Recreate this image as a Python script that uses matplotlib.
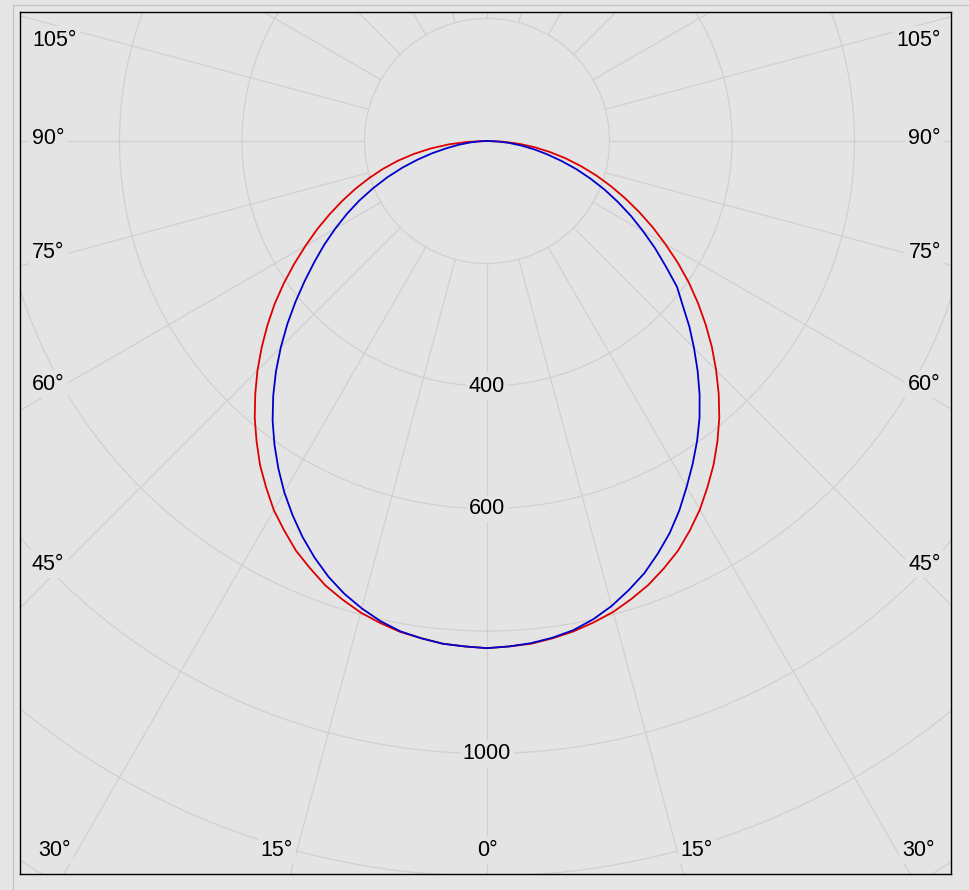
import numpy as np
import matplotlib
matplotlib.use("Agg")
import matplotlib.pyplot as plt
from matplotlib.lines import Line2D

# ---------------- data ----------------
angles_deg = [-90, -87.5, -85, -82.5, -80, -77.5, -75, -72.5, -70, -67.5,
              -65, -62.5, -60, -57.5, -55, -52.5, -50, -47.5, -45, -42.5,
              -40, -37.5, -35, -32.5, -30, -27.5, -25, -22.5, -20, -17.5,
              -15, -12.5, -10, -7.5, -5, -2.5, 0, 2.5, 5, 7.5, 10, 12.5, 15,
              17.5, 20, 22.5, 25, 27.5, 30, 32.5, 35, 37.5, 40, 42.5, 45,
              47.5, 50, 52.5, 55, 57.5, 60, 62.5, 65, 67.5, 70, 72.5, 75,
              77.5, 80, 82.5, 85, 87.5, 90]
red_cd = [0, 31, 62, 92, 121, 149, 176, 202, 229, 256,
          284, 313, 342, 373, 405, 437, 468, 499, 530, 560,
          590, 618, 646, 671, 696, 717, 738, 755, 772, 785,
          797, 806, 814, 819, 824, 826, 828, 826, 824, 819, 813, 805, 796,
          784, 771, 755, 738, 717, 695, 670, 645, 618, 590, 560, 529,
          498, 466, 434, 402, 369, 336, 305, 274, 244, 215, 187, 159,
          132, 105, 79, 53, 27, 0]
blue_cd = [0, 12, 27, 46, 66, 91, 117, 145, 173, 201,
           230, 258, 286, 315, 344, 375, 408, 442, 476, 510,
           543, 575, 605, 634, 662, 688, 713, 736, 757, 775,
           790, 803, 813, 819, 824, 826, 828, 826, 823, 818, 811, 800, 786,
           769, 751, 729, 706, 680, 652, 625, 598, 570, 540, 509, 478,
           448, 417, 391, 356, 325, 294, 265, 236, 208, 180, 153, 126,
           101, 78, 56, 36, 17, 0]
ring_values = [200, 400, 600, 800, 1000, 1200, 1400]
ring_labels = ["400", "600", "1000"]
ring_label_values = [400, 600, 1000]
spoke_angles = [-180, -165, -150, -135, -120, -105, -90, -75, -60, -45, -30,
                -15, 0, 15, 30, 45, 60, 75, 90, 105, 120, 135, 150, 165]
side_labels = ["105°", "90°", "75°", "60°", "45°"]
bottom_labels = ["30°", "15°", "0°", "15°", "30°"]

# ---------------- layout ----------------
W, H = 969, 890
CX, CY = 487, 141          # pixel position of the polar centre
S = 0.6125                 # pixels per cd
AX_L, AX_R, AX_T, AX_B = 20, 951, 12, 874

def px2d(px, py):
    return (px - CX) / S, (CY - py) / S

BG_IN = "#e4e4e4"
BG_OUT = "#e6e6e6"
GRID = "#d0d0d0"
FONT = ["Liberation Sans", "DejaVu Sans"]
FS = 15.5

fig = plt.figure(figsize=(W / 100, H / 100), dpi=100, facecolor=BG_OUT)
ax = fig.add_axes([AX_L / W, (H - AX_B) / H, (AX_R - AX_L) / W, (AX_B - AX_T) / H])
ax.set_facecolor(BG_IN)
x0, y0 = px2d(AX_L, AX_B)
x1, y1 = px2d(AX_R, AX_T)
ax.set_xlim(x0, x1)
ax.set_ylim(y0, y1)
ax.set_xticks([])
ax.set_yticks([])
for sp in ax.spines.values():
    sp.set_color("black")
    sp.set_linewidth(1.0)

# grid rings
t = np.linspace(0, 2 * np.pi, 721)
for rv in ring_values:
    ax.plot(rv * np.sin(t), -rv * np.cos(t), color=GRID, lw=0.9, zorder=1)
# spokes
r_in, r_out = ring_values[0], 3000
for a in spoke_angles:
    ar = np.deg2rad(a)
    ax.plot([r_in * np.sin(ar), r_out * np.sin(ar)],
            [-r_in * np.cos(ar), -r_out * np.cos(ar)],
            color=GRID, lw=0.9, zorder=1)

# curves
th = np.deg2rad(np.array(angles_deg, dtype=float))
for vals, col in ((red_cd, "#dd0000"), (blue_cd, "#0000cc")):
    v = np.array(vals, dtype=float)
    ax.plot(v * np.sin(th), -v * np.cos(th), color=col, lw=1.3, zorder=4,
            solid_joinstyle="round")

box = dict(boxstyle="square,pad=0.15", facecolor=BG_IN, edgecolor="none")

# ring labels
for lab, val in zip(ring_labels, ring_label_values):
    ax.text(0, -val, lab, ha="center", va="center", fontsize=FS,
            family=FONT, bbox=box, zorder=3)

# angle labels at the sides
side_y = [40, 139, 253, 384, 564]
for lab, py in zip(side_labels, side_y):
    xl, yl = px2d(32, py)
    ax.text(xl, yl, lab, ha="left", va="center", fontsize=FS, family=FONT,
            bbox=box, zorder=3)
    xr, yr = px2d(941, py)
    ax.text(xr, yr, lab, ha="right", va="center", fontsize=FS, family=FONT,
            bbox=box, zorder=3)
bottom_x = [54, 277, 487, 697, 918]
for lab, px in zip(bottom_labels, bottom_x):
    xb, yb = px2d(px, 850)
    ax.text(xb, yb, lab, ha="center", va="center", fontsize=FS, family=FONT,
            bbox=box, zorder=3)

# outer light frame lines
fig.add_artist(Line2D([13 / W, 13 / W], [0, 1 - 5 / H], transform=fig.transFigure,
                      color="#c4c4c4", lw=0.9))
fig.add_artist(Line2D([13 / W, 1], [1 - 5 / H, 1 - 5 / H], transform=fig.transFigure,
                      color="#c4c4c4", lw=0.9))

fig.savefig("out.png", dpi=100, facecolor=BG_OUT)
